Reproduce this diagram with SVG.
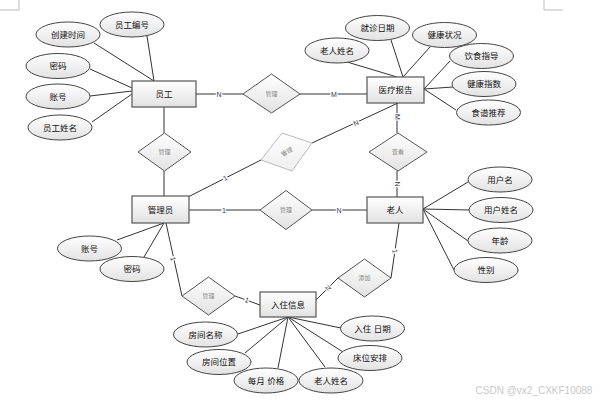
<svg xmlns="http://www.w3.org/2000/svg" width="604" height="401" viewBox="0 0 604 401">
<defs>
<linearGradient id="g" x1="0" y1="0" x2="0" y2="1">
<stop offset="0" stop-color="#ffffff"/>
<stop offset="1" stop-color="#e2e2e2"/>
</linearGradient>
<linearGradient id="gl" x1="0" y1="0" x2="0" y2="1">
<stop offset="0" stop-color="#ffffff"/>
<stop offset="1" stop-color="#eeeeee"/>
</linearGradient>
</defs>
<style>
text{font-family:"Liberation Sans","Noto Sans CJK SC",sans-serif;text-anchor:middle;dominant-baseline:central}
.ent rect{fill:url(#g);stroke:#555;stroke-width:1.2}
.ent text{font-size:8.5px;fill:#111}
.att ellipse{fill:url(#g);stroke:#444;stroke-width:1}
.att text{font-size:8.5px;fill:#111}
.rel polygon{fill:url(#g);stroke:#555;stroke-width:1}
.rel text{font-size:6px;fill:#888}
.lite polygon{fill:url(#gl);stroke:#bbb}
#connectors line{stroke:#333;stroke-width:1}
.card{font-size:7px;fill:#335;stroke:#fff;stroke-width:2.5px;paint-order:stroke}
.mark{fill:none;stroke:#bbb;stroke-width:1}
</style>
<rect width="604" height="401" fill="#fff"/>
<polyline class="mark" points="0,10 19,10 19,0"/>
<polyline class="mark" points="544,0 544,10 563,10"/>

<g id="connectors">
<line x1="147" y1="36" x2="154" y2="81"/>
<line x1="94" y1="43" x2="154" y2="81"/>
<line x1="90" y1="69" x2="132" y2="88"/>
<line x1="90" y1="96" x2="132" y2="91"/>
<line x1="92" y1="122" x2="132" y2="94"/>
<line x1="196" y1="94" x2="243" y2="94"/>
<line x1="300" y1="94" x2="367" y2="94"/>
<line x1="164" y1="107" x2="164" y2="133"/>
<line x1="164" y1="171" x2="164" y2="196"/>
<line x1="188" y1="197" x2="261" y2="160"/>
<line x1="312" y1="143" x2="398" y2="103"/>
<line x1="347" y1="62" x2="397" y2="77"/>
<line x1="391" y1="40" x2="403" y2="77"/>
<line x1="430" y1="47" x2="403" y2="77"/>
<line x1="424" y1="89" x2="450" y2="61"/>
<line x1="424" y1="89" x2="453" y2="87"/>
<line x1="424" y1="89" x2="456" y2="110"/>
<line x1="397" y1="103" x2="397" y2="133"/>
<line x1="397" y1="171" x2="397" y2="197"/>
<line x1="189" y1="210" x2="260" y2="210"/>
<line x1="312" y1="210" x2="367" y2="210"/>
<line x1="423" y1="209" x2="468" y2="182"/>
<line x1="423" y1="209" x2="470" y2="210"/>
<line x1="423" y1="209" x2="468" y2="241"/>
<line x1="423" y1="209" x2="454" y2="270"/>
<line x1="117" y1="240" x2="164" y2="223"/>
<line x1="144" y1="257" x2="164" y2="223"/>
<line x1="166" y1="223" x2="182" y2="296"/>
<line x1="235" y1="296" x2="260" y2="305"/>
<line x1="399" y1="223" x2="391" y2="278"/>
<line x1="338" y1="278" x2="316" y2="300"/>
<line x1="288" y1="317" x2="238" y2="334"/>
<line x1="288" y1="317" x2="245" y2="353"/>
<line x1="288" y1="317" x2="278" y2="368"/>
<line x1="288" y1="317" x2="341" y2="328"/>
<line x1="288" y1="317" x2="343" y2="352"/>
<line x1="288" y1="317" x2="325" y2="367"/>
<text class="card" x="219" y="94">N</text>
<text class="card" x="334" y="94">M</text>
<text class="card" x="225" y="178" transform="rotate(-27 225 178)">1</text>
<text class="card" x="356" y="123" transform="rotate(-25 356 123)">N</text>
<text class="card" x="397" y="117" transform="rotate(90 397 117)">M</text>
<text class="card" x="397" y="184" transform="rotate(90 397 184)">N</text>
<text class="card" x="224" y="210">1</text>
<text class="card" x="339" y="210">N</text>
<text class="card" x="173" y="259" transform="rotate(78 173 259)">1</text>
<text class="card" x="247" y="300" transform="rotate(20 247 300)">1</text>
<text class="card" x="395" y="251" transform="rotate(82 395 251)">1</text>
<text class="card" x="328" y="288" transform="rotate(-45 328 288)">N</text>
</g>

<g id="staff" class="ent"><rect x="132" y="81" width="64" height="26"/><text x="164" y="94">员工</text></g>
<g id="report" class="ent"><rect x="367" y="77" width="57" height="26"/><text x="395.5" y="90">医疗报告</text></g>
<g id="admin" class="ent"><rect x="132" y="196" width="57" height="27"/><text x="160.5" y="209.5">管理员</text></g>
<g id="elder" class="ent"><rect x="367" y="197" width="56" height="26"/><text x="395" y="210">老人</text></g>
<g id="checkin" class="ent"><rect x="260" y="292" width="56" height="25"/><text x="288" y="304.5">入住信息</text></g>

<g id="rel-staff-report" class="rel"><polygon points="243,94 271.5,74 300,94 271.5,113"/><text x="271.5" y="94">管理</text></g>
<g id="rel-staff-admin" class="rel"><polygon points="138,152 164.5,133 191,152 164.5,171"/><text x="164.5" y="152">管理</text></g>
<g id="rel-admin-report" class="rel lite"><polygon points="261,160 282,133 312,143 292,171"/><text x="287" y="152" transform="rotate(-30 287 152)">管理</text></g>
<g id="rel-view" class="rel"><polygon points="369,152 398,133 427,152 398,171"/><text x="398" y="152">查看</text></g>
<g id="rel-admin-elder" class="rel"><polygon points="260,210 286,190.5 312,210 286,229.5"/><text x="286" y="210">管理</text></g>
<g id="rel-admin-checkin" class="rel"><polygon points="182,296 208.5,277 235,296 208.5,315"/><text x="208.5" y="296">管理</text></g>
<g id="rel-add" class="rel"><polygon points="338,278 364.5,259 391,278 364.5,297"/><text x="364.5" y="278">添加</text></g>

<g id="a-staffno" class="att"><ellipse cx="132" cy="24.5" rx="32" ry="12.5"/><text x="132" y="24.5">员工编号</text></g>
<g id="a-ctime" class="att"><ellipse cx="68" cy="34.5" rx="32" ry="12.5"/><text x="68" y="34.5">创建时间</text></g>
<g id="a-pwd1" class="att"><ellipse cx="58" cy="66" rx="32" ry="12.5"/><text x="58" y="66">密码</text></g>
<g id="a-acct1" class="att"><ellipse cx="58" cy="96.5" rx="32" ry="12.5"/><text x="58" y="96.5">账号</text></g>
<g id="a-staffname" class="att"><ellipse cx="60" cy="127.5" rx="32" ry="12.5"/><text x="60" y="127.5">员工姓名</text></g>

<g id="a-rname" class="att"><ellipse cx="337" cy="50.5" rx="32" ry="12.5"/><text x="337" y="50.5">老人姓名</text></g>
<g id="a-vdate" class="att"><ellipse cx="377.5" cy="28" rx="32" ry="12.5"/><text x="377.5" y="28">就诊日期</text></g>
<g id="a-health" class="att"><ellipse cx="444.5" cy="35" rx="32" ry="12.5"/><text x="444.5" y="35">健康状况</text></g>
<g id="a-diet" class="att"><ellipse cx="481.5" cy="56" rx="32" ry="12.5"/><text x="481.5" y="56">饮食指导</text></g>
<g id="a-hindex" class="att"><ellipse cx="484" cy="84" rx="32" ry="12.5"/><text x="484" y="84">健康指数</text></g>
<g id="a-recipe" class="att"><ellipse cx="488.5" cy="112.5" rx="32" ry="12.5"/><text x="488.5" y="112.5">食谱推荐</text></g>

<g id="a-user" class="att"><ellipse cx="500" cy="179.5" rx="32" ry="12.5"/><text x="500" y="179.5">用户名</text></g>
<g id="a-username" class="att"><ellipse cx="501" cy="210" rx="32" ry="12.5"/><text x="501" y="210">用户姓名</text></g>
<g id="a-age" class="att"><ellipse cx="500" cy="240.5" rx="32" ry="12.5"/><text x="500" y="240.5">年龄</text></g>
<g id="a-sex" class="att"><ellipse cx="486" cy="270" rx="32" ry="12.5"/><text x="486" y="270">性别</text></g>

<g id="a-acct2" class="att"><ellipse cx="89.5" cy="248.5" rx="32" ry="12.5"/><text x="89.5" y="248.5">账号</text></g>
<g id="a-pwd2" class="att"><ellipse cx="132" cy="269" rx="32" ry="12.5"/><text x="132" y="269">密码</text></g>

<g id="a-roomname" class="att"><ellipse cx="205.5" cy="334.5" rx="32" ry="12.5"/><text x="205.5" y="334.5">房间名称</text></g>
<g id="a-roomloc" class="att"><ellipse cx="219" cy="362" rx="32" ry="12.5"/><text x="219" y="362">房间位置</text></g>
<g id="a-price" class="att"><ellipse cx="266" cy="380.5" rx="32" ry="12.5"/><text x="266" y="380.5">每月 价格</text></g>
<g id="a-ename" class="att"><ellipse cx="331" cy="380.5" rx="32" ry="12.5"/><text x="331" y="380.5">老人姓名</text></g>
<g id="a-indate" class="att"><ellipse cx="372.5" cy="328.5" rx="32" ry="12.5"/><text x="372.5" y="328.5">入住 日期</text></g>
<g id="a-bed" class="att"><ellipse cx="370" cy="358" rx="32" ry="12.5"/><text x="370" y="358">床位安排</text></g>

<text x="534" y="390" style="font-size:10px;fill:#c8c8c8">CSDN @vx2_CXKF10088</text>
</svg>
